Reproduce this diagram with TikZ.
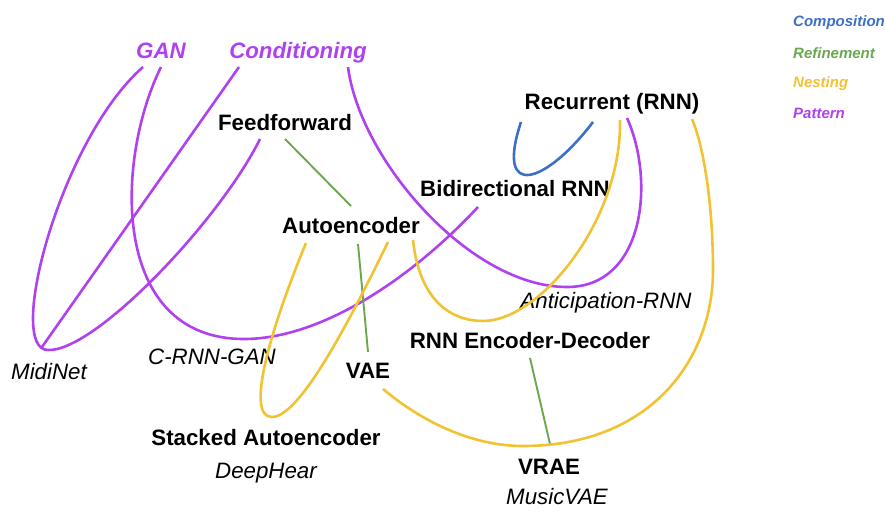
\documentclass[tikz,border=0pt]{standalone}
\usepackage{fontspec}
\setmainfont{Liberation Sans}
\definecolor{cpurple}{HTML}{B041EE}
\definecolor{cyellow}{HTML}{F1C232}
\definecolor{cgreen}{HTML}{6AA84F}
\definecolor{cblue}{HTML}{3D6FC6}
\begin{document}
\begin{tikzpicture}[x=1pt,y=-1pt,
  base/.style={inner sep=0pt, text height=15.8pt, text depth=0pt},
  cls/.style={base, font=\fontsize{22.3}{26}\selectfont\bfseries},
  model/.style={base, font=\fontsize{22.3}{26}\selectfont\itshape},
  pat/.style={base, text=cpurple, font=\fontsize{22.3}{26}\selectfont\bfseries\itshape},
  leg/.style={inner sep=0pt, text height=10.7pt, text depth=0pt, anchor=west, font=\fontsize{15}{18}\selectfont\bfseries\itshape},
  patE/.style={draw=cpurple, line width=2.6pt},
  nestE/.style={draw=cyellow, line width=2.6pt},
  refE/.style={draw=cgreen, line width=1.9pt},
  compE/.style={draw=cblue, line width=2.6pt}]
\useasboundingbox (0,0) rectangle (885,511);

% nodes
\node[pat] (gan) at (161,51) {GAN};
\node[pat] (cond) at (298,51) {Conditioning};
\node[cls] (ff) at (285,123) {Feedforward};
\node[cls] (ae) at (351,226) {Autoencoder};
\node[cls] (rnn) at (612,102) {Recurrent (RNN)};
\node[cls] (birnn) at (515,189) {Bidirectional RNN};
\node[model] (antic) at (606,301) {Anticipation-RNN};
\node[cls] (encdec) at (530,341) {RNN Encoder-Decoder};
\node[cls] (vae) at (368,371) {VAE};
\node[cls] (vrae) at (549,467) {VRAE};
\node[model] (musicvae) at (557,497) {MusicVAE};
\node[cls] (stacked) at (266,438) {Stacked Autoencoder};
\node[model] (deephear) at (266,471) {DeepHear};
\node[model] (midinet) at (49,372) {MidiNet};
\node[model] (crnngan) at (212,357) {C-RNN-GAN};

% legend
\node[leg, text=cblue] (lcomp) at (793,21) {Composition};
\node[leg, text=cgreen] (lref) at (793,53) {Refinement};
\node[leg, text=cyellow] (lnest) at (793,82) {Nesting};
\node[leg, text=cpurple] (lpat) at (793,113) {Pattern};

% pattern (purple)
\draw[patE] ([shift={(-18,16)}]gan.center) .. controls (60,140) and (5,350) ..
  ([shift={(-1,-22)}]midinet.center) .. controls (95,352) and (220,220) ..
  ([shift={(-25,16)}]ff.center);
\draw[patE] ([shift={(-59,16)}]cond.center) -- ([shift={(-7,-25)}]midinet.center);
\draw[patE] ([shift={(0,16)}]gan.center) .. controls (115,160) and (110,339) ..
  ([shift={(32,-18)}]crnngan.center) .. controls (320,339) and (410,280) ..
  ([shift={(-37,18)}]birnn.center);
\draw[patE] ([shift={(50,16)}]cond.center) .. controls (360,160) and (470,287) ..
  ([shift={(-39,-14)}]antic.center) .. controls (645,287) and (655,180) ..
  ([shift={(15,16)}]rnn.center);

% composition (blue)
\draw[compE] ([shift={(-91,20)}]rnn.center) .. controls (495,200) and (545,185) ..
  ([shift={(-19,20)}]rnn.center);

% refinement (green)
\draw[refE] ([shift={(0,16)}]ff.center) -- ([shift={(0,-20)}]ae.center);
\draw[refE] ([shift={(7,18)}]ae.center) -- ([shift={(0,-19)}]vae.center);
\draw[refE] ([shift={(0,17)}]encdec.center) -- ([shift={(1,-23)}]vrae.center);

% nesting (yellow)
\draw[nestE] ([shift={(-45,17)}]ae.center) .. controls (270,330) and (245,417) ..
  ([shift={(6,-21)}]stacked.center) .. controls (300,417) and (350,320) ..
  ([shift={(37,16)}]ae.center);
\draw[nestE] ([shift={(62,14)}]ae.center) .. controls (420,305) and (455,321) ..
  ([shift={(-47,-20)}]encdec.center) .. controls (540,321) and (622,220) ..
  ([shift={(8,18)}]rnn.center);
\draw[nestE] ([shift={(15,18)}]vae.center) .. controls (420,420) and (470,446) ..
  ([shift={(-26,-21)}]vrae.center) .. controls (650,446) and (713,360) ..
  (713,270) .. controls (713,210) and (705,150) ..
  ([shift={(80,17)}]rnn.center);
\end{tikzpicture}
\end{document}
